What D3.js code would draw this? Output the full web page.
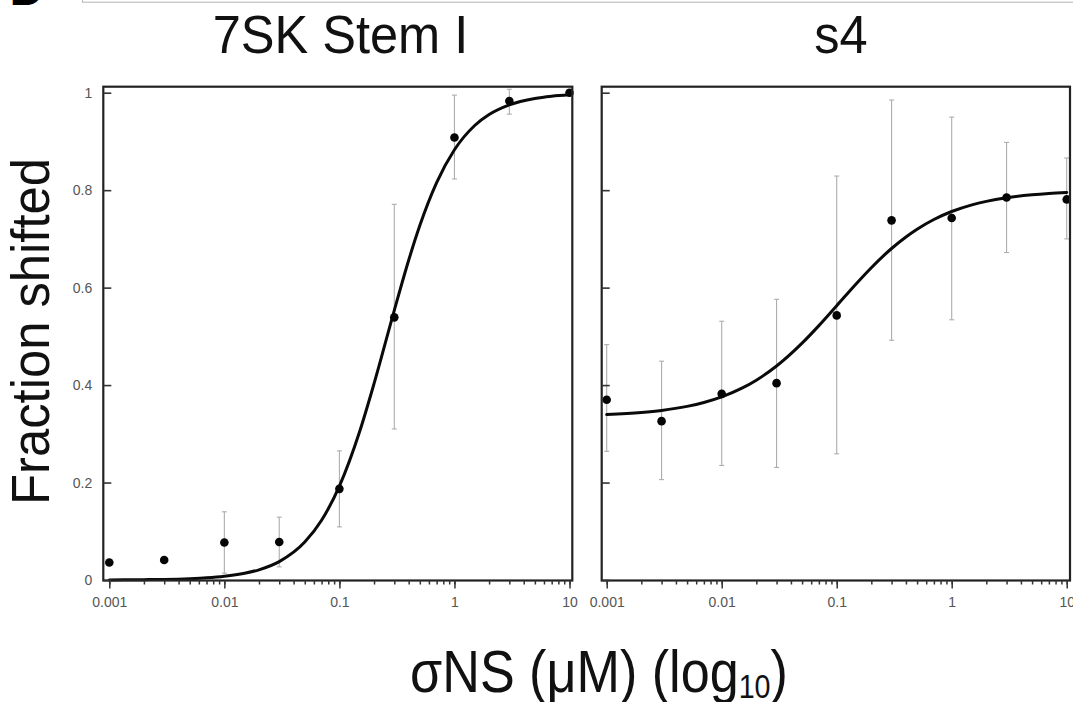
<!DOCTYPE html>
<html>
<head>
<meta charset="utf-8">
<script src="https://cdn.jsdelivr.net/npm/d3@7"></script>
<style>
  html, body { margin: 0; padding: 0; background: #fff; }
  svg { display: block; }
</style>
</head>
<body>
<svg id="chart" width="1073" height="702"></svg>
<script>
// ---- data -------------------------------------------------------------
const panelTitles = ["7SK Stem I", "s4"];
const concentrations = [0.001, 0.003, 0.01, 0.03, 0.1, 0.3, 1, 3, 10];

// 7SK Stem I: mean fraction shifted with error range
const stemMean = [0.036, 0.041, 0.077, 0.078, 0.187, 0.539, 0.908, 0.983, 1.0];
const stemLow  = [null, null, 0.014, 0.027, 0.109, 0.310, 0.823, 0.956, null];
const stemHigh = [null, null, 0.140, 0.129, 0.265, 0.771, 0.995, 1.007, null];

// s4: mean fraction shifted with error range
const s4Mean = [0.370, 0.326, 0.382, 0.404, 0.543, 0.738, 0.743, 0.785, 0.781];
const s4Low  = [0.264, 0.206, 0.235, 0.231, 0.259, 0.492, 0.534, 0.672, 0.700];
const s4High = [0.483, 0.449, 0.531, 0.576, 0.829, 0.985, 0.950, 0.898, 0.866];

// binding fit curves, sampled along the concentration axis
const fitConc = [0.001, 0.002, 0.003, 0.005, 0.007, 0.01, 0.015, 0.02, 0.03, 0.05, 0.07,
                 0.1, 0.15, 0.2, 0.3, 0.4, 0.5, 0.7, 1, 1.5, 2, 3, 5, 7, 10];
const stemFit = [0.0002, 0.0007, 0.0012, 0.0027, 0.0044, 0.0075, 0.0137, 0.0209, 0.0377,
                 0.0778, 0.1226, 0.1926, 0.3047, 0.4029, 0.5534, 0.6562, 0.7273, 0.8154,
                 0.8829, 0.9327, 0.9552, 0.9751, 0.9883, 0.9929, 0.9958];
const s4Fit   = [0.3394, 0.3438, 0.3480, 0.3563, 0.3643, 0.3758, 0.3936, 0.4100, 0.4391,
                 0.4860, 0.5220, 0.5629, 0.6096, 0.6409, 0.6803, 0.7040, 0.7199, 0.7398,
                 0.7562, 0.7699, 0.7770, 0.7844, 0.7905, 0.7932, 0.7952];

// axis ticks
const xMajorTicks = [0.001, 0.01, 0.1, 1, 10];
const xTickLabels = ["0.001", "0.01", "0.1", "1", "10"];
const yTickValues = [0, 0.2, 0.4, 0.6, 0.8, 1];
const yTickLabels = ["0", "0.2", "0.4", "0.6", "0.8", "1"];

const axisTitleX = "σNS (μM) (log";
const axisTitleSub = "10";
const axisTitleY = "Fraction shifted";

// ---- layout -----------------------------------------------------------
const FONT = "'Liberation Sans', Arial, Helvetica, sans-serif";
const svg = d3.select("#chart");

const yRange = [580, 92.7];
const frameTop = 86.7, frameBottom = 580.5;

const panels = [
  { title: panelTitles[0], mean: stemMean, low: stemLow, high: stemHigh, fit: stemFit,
    range: [109.3, 569.5], frameL: 103.3, frameR: 572.3, yLabels: true, titleX: 340.5 },
  { title: panelTitles[1], mean: s4Mean, low: s4Low, high: s4High, fit: s4Fit,
    range: [606.7, 1066.7], frameL: 601.7, frameR: 1070, yLabels: false, titleX: 841 }
];

const y = d3.scaleLinear().domain([0, 1]).range(yRange);

// panel letter and edge of the neighbouring figure box
svg.append("rect")
  .attr("x", 82.5).attr("y", -10).attr("width", 1100).attr("height", 12.2)
  .attr("fill", "none").attr("stroke", "#b4b4b4").attr("stroke-width", 1);
svg.append("text")
  .attr("x", 9.5).attr("y", 4.5)
  .attr("font-family", FONT).attr("font-weight", "bold").attr("font-size", 48)
  .attr("fill", "#000").text("D");

// scale a text element horizontally so it spans the given width
function fitWidth(sel, cx, cy, target, rotate) {
  const node = sel.node();
  const w = node.getComputedTextLength();
  const sx = target / w;
  sel.attr("x", 0).attr("y", 0)
     .attr("transform", `translate(${cx},${cy})` + (rotate ? ` rotate(${rotate})` : "") + ` scale(${sx},1)`);
}

panels.forEach(p => {
  const x = d3.scaleLog().domain([0.001, 10]).range(p.range);
  const g = svg.append("g");

  const pts = concentrations.map((c, i) => ({ c, m: p.mean[i], lo: p.low[i], hi: p.high[i] }));

  // error bars
  const eb = g.append("g").attr("stroke", "#adadad").attr("stroke-width", 1.1).attr("fill", "none");
  pts.filter(d => d.lo != null).forEach(d => {
    const cx = x(d.c);
    eb.append("line").attr("x1", cx).attr("x2", cx).attr("y1", y(d.lo)).attr("y2", y(d.hi));
    eb.append("line").attr("x1", cx - 2.5).attr("x2", cx + 2.5).attr("y1", y(d.lo)).attr("y2", y(d.lo));
    eb.append("line").attr("x1", cx - 2.5).attr("x2", cx + 2.5).attr("y1", y(d.hi)).attr("y2", y(d.hi));
  });

  // fit curve
  const line = d3.line()
    .x(d => x(d[0])).y(d => y(d[1]))
    .curve(d3.curveMonotoneX);
  g.append("path")
    .datum(fitConc.map((c, i) => [c, p.fit[i]]))
    .attr("d", line)
    .attr("fill", "none").attr("stroke", "#0a0a0a").attr("stroke-width", 3)
    .attr("stroke-linecap", "round");

  // data points
  g.append("g").selectAll("circle").data(pts).join("circle")
    .attr("cx", d => x(d.c)).attr("cy", d => y(d.m)).attr("r", 4.3)
    .attr("fill", "#050505");

  // frame
  g.append("rect")
    .attr("x", p.frameL).attr("y", frameTop)
    .attr("width", p.frameR - p.frameL).attr("height", frameBottom - frameTop)
    .attr("fill", "none").attr("stroke", "#222").attr("stroke-width", 2.2);

  // x axis: minor ticks then labelled decades
  const xMinor = d3.axisBottom(x).tickValues(x.ticks()).tickSize(4).tickFormat("");
  const xMajor = d3.axisBottom(x).tickValues(xMajorTicks).tickSize(8).tickPadding(9)
    .tickFormat((d, i) => xTickLabels[i]);
  [xMinor, xMajor].forEach(ax => {
    const a = g.append("g").attr("transform", `translate(0,${frameBottom})`).call(ax);
    a.select(".domain").remove();
    a.selectAll("line").attr("stroke", "#333").attr("stroke-width", 1.5);
    a.selectAll("text").attr("font-family", FONT).attr("font-size", 14).attr("fill", "#555");
  });

  // y axis: ticks point into the frame
  const yAx = d3.axisLeft(y).tickValues(yTickValues).tickSizeInner(-8).tickSizeOuter(0)
    .tickPadding(11)
    .tickFormat((d, i) => p.yLabels ? yTickLabels[i] : "");
  const ya = g.append("g").attr("transform", `translate(${p.frameL},0)`).call(yAx);
  ya.select(".domain").remove();
  ya.selectAll("line").attr("stroke", "#333").attr("stroke-width", 1.6);
  ya.selectAll("text").attr("font-family", FONT).attr("font-size", 14).attr("fill", "#555");

  // panel title
  const t = svg.append("text")
    .attr("font-family", FONT).attr("font-size", 53.5).attr("fill", "#111")
    .attr("text-anchor", "middle").text(p.title);
  t.attr("x", 0).attr("y", 0).attr("transform", `translate(${p.titleX},53.3) scale(0.945,1)`);
});

// axis titles
const xt = svg.append("text")
  .attr("font-family", FONT).attr("font-size", 60).attr("fill", "#111")
  .attr("text-anchor", "middle");
xt.append("tspan").text(axisTitleX);
xt.append("tspan").attr("font-size", 33).attr("dy", 6).text(axisTitleSub);
xt.append("tspan").attr("dy", -6).text(")");
fitWidth(xt, 599, 692, 378);

const ytl = svg.append("text")
  .attr("font-family", FONT).attr("font-size", 53).attr("fill", "#111")
  .attr("text-anchor", "middle").text(axisTitleY);
fitWidth(ytl, 49, 331.5, 347, -90);
</script>
</body>
</html>
